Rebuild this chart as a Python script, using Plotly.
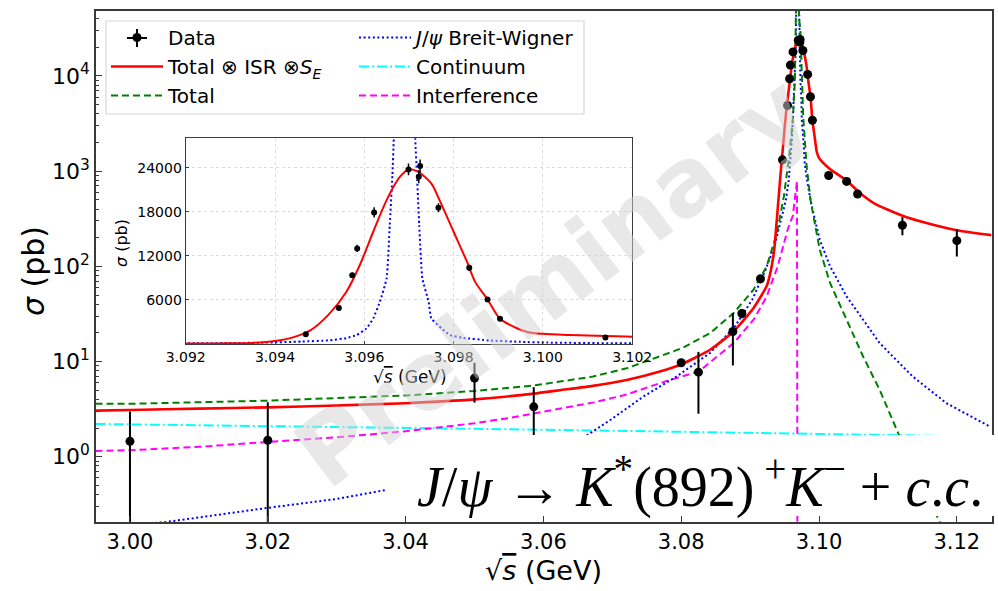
import plotly.graph_objects as go

# ---- measured cross sections (GeV, pb) ----
data_x = [3.0000, 3.0200, 3.0500, 3.0586, 3.0800, 3.0825, 3.0875, 3.0888, 3.0915,
          3.09469, 3.09543, 3.09573, 3.09584, 3.09622, 3.09699, 3.09725, 3.09722,
          3.09766, 3.09835, 3.09876, 3.09904, 3.1014, 3.1040, 3.1056, 3.1121, 3.1200]
data_y = [1.45, 1.49, 6.7, 3.34, 9.7, 7.73, 20.7, 32.0, 74.0,
          1315, 4898, 9342, 13016, 17914, 23764, 24218, 22766,
          18549, 10385, 6054, 3427, 900, 780, 575, 270, 186]
data_yerr = [1.53, 2.25, 3.0, 2.04, 0.6, 4.9, 11.6, 3.5, 6.0,
             150, 250, 350, 500, 700, 800, 900, 900,
             600, 400, 300, 200, 80, 60, 50, 58, 59]
data_xerr = [0.00005, 0.00005, 0.00005, 0.00005, 0.00005, 0.00005, 0.00005, 0.00005, 0.00005,
             0.00005, 0.00005, 0.00005, 0.00005, 0.00005, 0.00005, 0.00005, 0.00005,
             0.00005, 0.00005, 0.00005, 0.00005, 0.00005, 0.00005, 0.00005, 0.00005, 0.00005]

# ---- fit curves ----
# Total (x) ISR (x) S_E
red_x = [2.995, 3.000, 3.010, 3.020, 3.030, 3.040, 3.050, 3.0586, 3.0624, 3.0672,
         3.0721, 3.0769, 3.0801, 3.0842, 3.0876, 3.0905, 3.0924, 3.0930, 3.0935,
         3.0940, 3.0944, 3.0948, 3.0952, 3.0956, 3.0959, 3.0962, 3.0965, 3.0968,
         3.0970, 3.0972, 3.0975, 3.0977, 3.0980, 3.0983, 3.09848, 3.09876, 3.09904,
         3.09938, 3.09967, 3.1000, 3.1006, 3.1014, 3.1020, 3.1040, 3.1056, 3.1080,
         3.1121, 3.1160, 3.1200, 3.1250]
red_y = [3.05, 3.1, 3.2, 3.3, 3.45, 3.65, 4.0, 4.6, 5.0, 5.55,
         6.4, 7.85, 9.4, 13.3, 20.7, 36.5, 62, 90, 150,
         400, 900, 1900, 4000, 7120, 10750, 15280, 19590, 22770,
         23760, 23450, 21860, 19370, 15280, 11200, 8490, 6054, 3427,
         2250, 1600, 1380, 1220, 1080, 1000, 800, 620, 460,
         340, 280, 240, 213]

# Total (Born level)
green_x = [2.995, 3.000, 3.020, 3.040, 3.050, 3.0586, 3.0624, 3.0672, 3.0721, 3.0769,
           3.0801, 3.0842, 3.0876, 3.0905, 3.0924, 3.0939, 3.0949, 3.0957, 3.0962,
           3.0965, 3.0967, 3.0968, 3.0969, 3.0970, 3.0971, 3.0973, 3.0975, 3.0977,
           3.0982, 3.0988, 3.1001, 3.1016, 3.1040, 3.1064, 3.1088, 3.1115, 3.1176,
           3.1200, 3.1250]
green_y = [3.59, 3.6, 3.88, 4.4, 4.9, 5.6, 6.16, 6.95, 8.5, 11.3,
           13.8, 19.9, 32.3, 56.9, 100, 225, 545, 1500, 3500,
           9000, 40000, 138000, 780000, 138000, 40000, 30000, 12600, 3800,
           1130, 480, 150, 66.8, 27.5, 11.3, 5.04, 1.76, 0.2,
           0.1, 0.05]

# J/psi Breit-Wigner
blue_x = [2.995, 3.005, 3.020, 3.030, 3.037, 3.045, 3.055, 3.0653, 3.0697, 3.0745,
          3.0793, 3.0842, 3.0878, 3.0903, 3.0922, 3.0936, 3.0946, 3.0952, 3.0956,
          3.09583, 3.09605, 3.0962, 3.09635, 3.0965, 3.09657, 3.09663, 3.09666,
          3.0967, 3.0968, 3.0969, 3.0970, 3.0971, 3.09714, 3.09718, 3.09723, 3.0973,
          3.09744, 3.0975, 3.09773, 3.09792, 3.0982, 3.0988, 3.0995, 3.1001, 3.1016,
          3.1040, 3.1064, 3.1088, 3.1136, 3.1185, 3.1248]
blue_y = [0.18, 0.205, 0.29, 0.36, 0.445, 0.62, 0.95, 1.5, 2.43, 4.28,
          6.95, 12.3, 23.4, 44.6, 90, 170, 330, 500, 800,
          1224, 2130, 3492, 5760, 8934, 16190, 22990, 28000,
          40000, 138000, 780000, 138000, 40000, 28000, 22990, 16190, 8934,
          5760, 3492, 2130, 1224, 850, 480, 290, 191, 100,
          48.3, 27.5, 15.6, 6.95, 3.65, 2.07]

# Continuum
cyan_x = [2.995, 3.030, 3.060, 3.090, 3.125]
cyan_y = [2.21, 2.05, 1.92, 1.78, 1.62]

# Interference (negative part falls below the axis)
mag_x = [2.995, 3.000, 3.010, 3.020, 3.030, 3.040, 3.050, 3.055, 3.0586, 3.0624,
         3.0672, 3.0721, 3.0769, 3.0826, 3.0876, 3.0905, 3.0924, 3.0940, 3.0955,
         3.0962, 3.0966, 3.0968, 3.0969, 3.0975, 3.1100, 3.1250]
mag_y = [1.15, 1.17, 1.27, 1.42, 1.6, 1.85, 2.25, 2.55, 2.85, 3.15,
         3.7, 4.5, 5.93, 7.9, 15.6, 27.5, 48, 100, 250,
         340, 560, 780, 0.001, 0.001, 0.001, 0.001]

# ---- axis ticks ----
main_xticks = [3.00, 3.02, 3.04, 3.06, 3.08, 3.10, 3.12]
main_xlabels = ["3.00", "3.02", "3.04", "3.06", "3.08", "3.10", "3.12"]
main_yticks = [1, 10, 100, 1000, 10000]
main_ylabels = ["10<sup>0</sup>", "10<sup>1</sup>", "10<sup>2</sup>", "10<sup>3</sup>", "10<sup>4</sup>"]
main_yminor = [m * 10 ** e for e in range(-1, 5) for m in range(2, 10)]
inset_xticks = [3.092, 3.094, 3.096, 3.098, 3.100, 3.102]
inset_xlabels = ["3.092", "3.094", "3.096", "3.098", "3.100", "3.102"]
inset_yticks = [6000, 12000, 18000, 24000]
inset_ylabels = ["6000", "12000", "18000", "24000"]

FONT = "DejaVu Sans"
AX_COL = "#3a3a3a"
W, H = 998, 591


def px(x):
    return x / W


def py(y):
    return 1 - y / H


fig = go.Figure()

# main panel curves
fig.add_trace(go.Scatter(x=cyan_x, y=cyan_y, mode="lines", name="Continuum",
                         line=dict(color="#00ffff", width=2, dash="10px,3px,2px,3px", shape="spline"),
                         legend="legend2", legendrank=2, legendgroup="c"))
fig.add_trace(go.Scatter(x=mag_x, y=mag_y, mode="lines", name="Interference",
                         line=dict(color="#ff00ff", width=2, dash="7px,4px"),
                         legend="legend2", legendrank=3, legendgroup="i"))
fig.add_trace(go.Scatter(x=blue_x, y=blue_y, mode="lines", name="<i>J</i>/<i>\u03c8</i> Breit-Wigner",
                         line=dict(color="blue", width=2, dash="2px,2.6px"),
                         legend="legend2", legendrank=1, legendgroup="b"))
fig.add_trace(go.Scatter(x=green_x, y=green_y, mode="lines", name="Total",
                         line=dict(color="green", width=2, dash="7px,4px"),
                         legend="legend", legendrank=3, legendgroup="t"))
fig.add_trace(go.Scatter(x=red_x, y=red_y, mode="lines", name="Total \u2297 ISR \u2297<i>S<sub>E</sub></i>",
                         line=dict(color="red", width=2.6, shape="spline", smoothing=0.5),
                         legend="legend", legendrank=2, legendgroup="f"))
fig.add_trace(go.Scatter(x=data_x, y=data_y, mode="markers", name="Data",
                         marker=dict(color="black", size=9),
                         error_y=dict(type="data", array=data_yerr, color="black", thickness=2, width=0),
                         error_x=dict(type="data", array=data_xerr, color="black", thickness=2, width=0),
                         legend="legend", legendrank=1, legendgroup="d"))

# inset curves
fig.add_trace(go.Scatter(x=blue_x, y=blue_y, mode="lines", showlegend=False,
                         line=dict(color="blue", width=2, dash="2px,2.6px", shape="spline", smoothing=0.4),
                         xaxis="x2", yaxis="y2"))
fig.add_trace(go.Scatter(x=red_x, y=red_y, mode="lines", showlegend=False,
                         line=dict(color="red", width=2, shape="spline", smoothing=0.8),
                         xaxis="x2", yaxis="y2"))
fig.add_trace(go.Scatter(x=data_x, y=data_y, mode="markers", showlegend=False,
                         marker=dict(color="black", size=6),
                         error_y=dict(type="data", array=data_yerr, color="black", thickness=1.5, width=0),
                         error_x=dict(type="data", array=data_xerr, color="black", thickness=1.5, width=0),
                         xaxis="x2", yaxis="y2"))

legend_common = dict(xanchor="left", yanchor="top", bgcolor="rgba(0,0,0,0)",
                     font=dict(size=20), tracegroupgap=0, itemwidth=52)

fig.update_layout(
    width=W, height=H,
    margin=dict(l=0, r=0, t=0, b=0, autoexpand=False),
    paper_bgcolor="white", plot_bgcolor="white",
    font=dict(family=FONT, color="black"),
    xaxis=dict(domain=[px(96), px(991.7)], range=[2.99507, 3.12506], automargin=False,
               tickvals=main_xticks, ticktext=main_xlabels,
               ticks="inside", ticklen=6, tickwidth=1, tickcolor=AX_COL,
               showline=True, linecolor=AX_COL, linewidth=1.5, mirror=True,
               showgrid=False, zeroline=False, tickfont=dict(size=21)),
    yaxis=dict(domain=[py(522), py(10.5)], type="log", range=[-0.686, 4.688], automargin=False,
               tickvals=main_yticks, ticktext=main_ylabels,
               ticks="inside", ticklen=6, tickwidth=1, tickcolor=AX_COL,
               minor=dict(tickvals=main_yminor, ticks="inside", ticklen=3, tickcolor=AX_COL),
               showline=True, linecolor=AX_COL, linewidth=1.5, mirror=True,
               showgrid=False, zeroline=False, tickfont=dict(size=22)),
    xaxis2=dict(domain=[px(185.7), px(632.2)], range=[3.092, 3.102], anchor="y2", automargin=False,
                tickvals=inset_xticks, ticktext=inset_xlabels,
                ticks="inside", ticklen=3, tickcolor=AX_COL,
                showline=True, linecolor=AX_COL, linewidth=1.2, mirror=True,
                showgrid=True, gridcolor="#dcdcdc", griddash="dot", gridwidth=1,
                zeroline=False, tickfont=dict(size=14)),
    yaxis2=dict(domain=[py(344), py(138.3)], range=[0, 28000], anchor="x2", automargin=False,
                tickvals=inset_yticks, ticktext=inset_ylabels,
                ticks="inside", ticklen=3, tickcolor=AX_COL,
                showline=True, linecolor=AX_COL, linewidth=1.2, mirror=True,
                showgrid=True, gridcolor="#dcdcdc", griddash="dot", gridwidth=1,
                zeroline=False, tickfont=dict(size=14)),
    legend=dict(x=px(106), y=py(18), **legend_common),
    legend2=dict(x=px(354), y=py(18), **legend_common),
    showlegend=True,
)

# legend frame
fig.add_shape(type="rect", xref="paper", yref="paper",
              x0=px(106), x1=px(584), y0=py(114), y1=py(21),
              line=dict(color="#d8d8d8", width=1.2), fillcolor="rgba(255,255,255,0.8)", layer="below")
# error-bar cross on the Data legend key
fig.add_shape(type="line", xref="paper", yref="paper", x0=px(127), x1=px(147), y0=py(38), y1=py(38),
              line=dict(color="black", width=2))
fig.add_shape(type="line", xref="paper", yref="paper", x0=px(137), x1=px(137), y0=py(29), y1=py(47),
              line=dict(color="black", width=2))

# white panel behind the decay label
fig.add_shape(type="rect", xref="paper", yref="paper",
              x0=px(386), x1=px(996), y0=py(516), y1=py(435),
              line=dict(width=0), fillcolor="white", layer="above")

annotations = [
    dict(text="\u221a<span style='text-decoration:overline'><i>s</i></span> (GeV)", x=px(543), y=py(570),
         font=dict(size=27)),
    dict(text="<i>\u03c3</i> (pb)", x=px(33), y=py(271), textangle=-90, font=dict(size=30)),
    dict(text="\u221a<span style='text-decoration:overline'><i>s</i></span> (GeV)", x=px(410), y=py(377),
         font=dict(size=17)),
    dict(text="<i>\u03c3</i> (pb)", x=px(121), y=py(243), textangle=-90, font=dict(size=16)),
    dict(text="<i>J</i>/<i>\u03c8</i> \u2192 <i>K</i><sup>*</sup>(892)<sup> +</sup><i>K</i><sup>\u2212</sup> + <i>c</i>.<i>c</i>.",
         x=px(700), y=py(483), font=dict(size=56, family="Liberation Serif")),
    dict(text="<b>Preliminary</b>", x=px(552), y=py(281),
         textangle=-37, font=dict(size=94, color="rgba(210,210,210,0.5)")),
]
for a in annotations:
    a.update(xref="paper", yref="paper", showarrow=False, xanchor="center", yanchor="middle")
fig.update_layout(annotations=annotations)

fig.write_html("out.html")
